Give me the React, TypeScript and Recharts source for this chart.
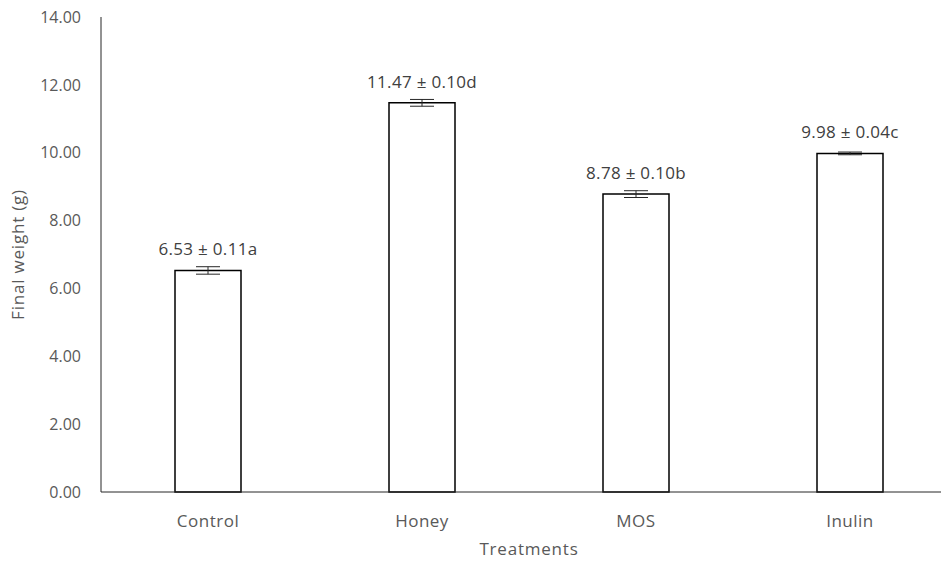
import React from 'react';
import { BarChart, Bar, XAxis, YAxis, ErrorBar, LabelList } from 'recharts';

const categories = ['Control', 'Honey', 'MOS', 'Inulin'];
const weights = [6.53, 11.47, 8.78, 9.98];
const errors = [0.11, 0.10, 0.10, 0.04];
const letters = ['a', 'd', 'b', 'c'];
const yTicks = [0, 2, 4, 6, 8, 10, 12, 14];

const data = categories.map((c, i) => ({
  name: c,
  value: weights[i],
  err: errors[i],
  label: `${weights[i].toFixed(2)} ± ${errors[i].toFixed(2)}${letters[i]}`,
}));

const FONT = '"Open Sans", sans-serif';

const BarLabel = (props: any) => {
  const { x, y, width, value } = props;
  return (
    <text
      x={Number(x) + Number(width) / 2}
      y={Number(y) - 15}
      textAnchor="middle"
      fill="#404040"
      fontSize={17}
      fontFamily={FONT}
      letterSpacing={0.3}
    >
      {value}
    </text>
  );
};

export default function App() {
  return (
    <div style={{ width: 941, height: 554, overflow: 'hidden' }}>
      <BarChart
        width={960}
        height={554}
        data={data}
        margin={{ top: 9, right: 11, left: 0, bottom: 0 }}
        barSize={66}
      >
        <XAxis
          dataKey="name"
          height={70}
          tickLine={false}
          tickMargin={17}
          axisLine={{ stroke: '#262626', strokeWidth: 1 }}
          tick={{ fill: '#595959', fontSize: 17, fontFamily: FONT, letterSpacing: 0.5 }}
          label={{ value: 'Treatments', position: 'insideBottom', offset: 7, fill: '#595959', fontSize: 17, fontFamily: FONT, letterSpacing: 0.8 }}
        />
        <YAxis
          width={93}
          domain={[0, 14]}
          ticks={yTicks}
          interval={0}
          tickLine={false}
          tickMargin={14}
          axisLine={{ stroke: '#262626', strokeWidth: 1 }}
          tickFormatter={(v: number) => v.toFixed(2)}
          tick={{ fill: '#595959', fontSize: 16, fontFamily: FONT }}
          label={{ value: 'Final weight (g)', angle: -90, position: 'insideLeft', dx: 5, dy: 0, fill: '#595959', fontSize: 17, fontFamily: FONT, letterSpacing: 0.8, style: { textAnchor: 'middle' } }}
        />
        <Bar dataKey="value" fill="#ffffff" stroke="#000000" strokeWidth={1.5} isAnimationActive={false}>
          <ErrorBar dataKey="err" width={12} stroke="#262626" strokeWidth={1} direction="y" />
          <LabelList dataKey="label" content={BarLabel} />
        </Bar>
      </BarChart>
    </div>
  );
}
